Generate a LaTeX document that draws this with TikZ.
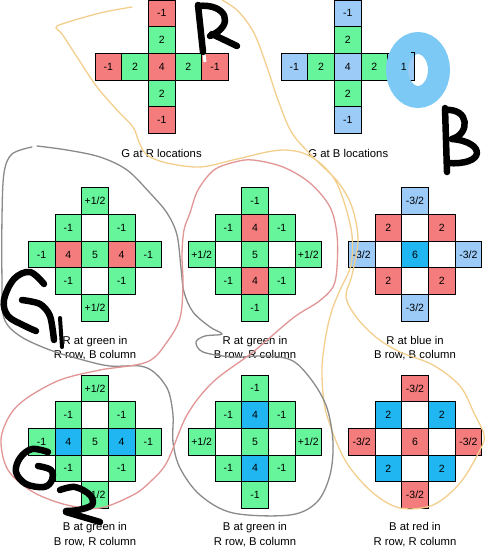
\documentclass[tikz,border=0pt]{standalone}
\usepackage{fontspec}
\setmainfont{Liberation Sans}
\definecolor{cred}{HTML}{F47C7C}
\definecolor{cgreen}{HTML}{66F59B}
\definecolor{clblue}{HTML}{9CCBF7}
\definecolor{ccyan}{HTML}{1FB6F2}
\definecolor{cblob}{HTML}{7CC9F5}
\definecolor{cyel}{HTML}{F3CF8E}
\definecolor{cgray}{HTML}{8A8A8A}
\definecolor{cpink}{HTML}{E29595}
\newcommand\phalf{+1/2}
\newcommand\mthr{-3/2}
\newcommand\emp{}
\tikzset{
  cellbox/.style={draw=black, line width=0.9pt, minimum size=26.67pt, inner sep=0pt,
    font=\fontsize{10.5}{12}\selectfont},
  lbl/.style={font=\fontsize{11.3}{13}\selectfont, inner sep=0pt, anchor=base},
  ink/.style={line width=6.5pt, line cap=round, line join=round, black},
  doodle/.style={line width=1.3pt, line cap=round, line join=round},
}
\begin{document}
\begin{tikzpicture}[x=1pt,y=-1pt]
\fill[white] (0,0) rectangle (491,555);
\useasboundingbox (0,0) rectangle (491,555);

% ---------- G at R locations
\begin{scope}[shift={(161.7,66.7)}]
\foreach \dx/\dy/\f/\t [count=\i] in {0/-2/cred/-1, 0/-1/cgreen/2, -2/0/cred/-1, -1/0/cgreen/2, 0/0/cred/4, 1/0/cgreen/2, 2/0/cred/-1, 0/1/cgreen/2, 0/2/cred/-1}
  \node[cellbox,fill=\f] (ga-\i) at (\dx*26.667,\dy*26.667) {\t};
\end{scope}
% ---------- G at B locations
\begin{scope}[shift={(347.7,66.7)}]
\foreach \dx/\dy/\f/\t [count=\i] in {0/-2/clblue/-1, 0/-1/cgreen/2, -2/0/clblue/-1, -1/0/cgreen/2, 0/0/clblue/4, 1/0/cgreen/2, 2/0/clblue/\emp, 0/1/cgreen/2, 0/2/clblue/-1}
  \node[cellbox,fill=\f] (gb-\i) at (\dx*26.667,\dy*26.667) {\t};
\end{scope}

% ---------- R at green, R row B column
\begin{scope}[shift={(95,254.5)}]
\foreach \dx/\dy/\f/\t [count=\i] in {0/-2/cgreen/\phalf, -1/-1/cgreen/-1, 0/-1/white/\emp, 1/-1/cgreen/-1, -2/0/cgreen/-1, -1/0/cred/4, 0/0/cgreen/5, 1/0/cred/4, 2/0/cgreen/-1, -1/1/cgreen/-1, 0/1/white/\emp, 1/1/cgreen/-1, 0/2/cgreen/\phalf}
  \node[cellbox,fill=\f] (ra-\i) at (\dx*26.667,\dy*26.667) {\t};
\end{scope}
% ---------- R at green, B row R column
\begin{scope}[shift={(255,254.5)}]
\foreach \dx/\dy/\f/\t [count=\i] in {0/-2/cgreen/-1, -1/-1/cgreen/-1, 0/-1/cred/4, 1/-1/cgreen/-1, -2/0/cgreen/\phalf, -1/0/white/\emp, 0/0/cgreen/5, 1/0/white/\emp, 2/0/cgreen/\phalf, -1/1/cgreen/-1, 0/1/cred/4, 1/1/cgreen/-1, 0/2/cgreen/-1}
  \node[cellbox,fill=\f] (rb-\i) at (\dx*26.667,\dy*26.667) {\t};
\end{scope}
% ---------- R at blue
\begin{scope}[shift={(415,254.5)}]
\foreach \dx/\dy/\f/\t [count=\i] in {0/-2/clblue/\mthr, -1/-1/cred/2, 0/-1/white/\emp, 1/-1/cred/2, -2/0/clblue/\mthr, -1/0/white/\emp, 0/0/ccyan/6, 1/0/white/\emp, 2/0/clblue/\mthr, -1/1/cred/2, 0/1/white/\emp, 1/1/cred/2, 0/2/clblue/\mthr}
  \node[cellbox,fill=\f] (rc-\i) at (\dx*26.667,\dy*26.667) {\t};
\end{scope}

% ---------- B at green, B row R column
\begin{scope}[shift={(95,441.7)}]
\foreach \dx/\dy/\f/\t [count=\i] in {0/-2/cgreen/\phalf, -1/-1/cgreen/-1, 0/-1/white/\emp, 1/-1/cgreen/-1, -2/0/cgreen/-1, -1/0/ccyan/4, 0/0/cgreen/5, 1/0/ccyan/4, 2/0/cgreen/-1, -1/1/cgreen/-1, 0/1/white/\emp, 1/1/cgreen/-1, 0/2/cgreen/\phalf}
  \node[cellbox,fill=\f] (ba-\i) at (\dx*26.667,\dy*26.667) {\t};
\end{scope}
% ---------- B at green, R row B column
\begin{scope}[shift={(255,441.7)}]
\foreach \dx/\dy/\f/\t [count=\i] in {0/-2/cgreen/-1, -1/-1/cgreen/-1, 0/-1/ccyan/4, 1/-1/cgreen/-1, -2/0/cgreen/\phalf, -1/0/white/\emp, 0/0/cgreen/5, 1/0/white/\emp, 2/0/cgreen/\phalf, -1/1/cgreen/-1, 0/1/ccyan/4, 1/1/cgreen/-1, 0/2/cgreen/-1}
  \node[cellbox,fill=\f] (bb-\i) at (\dx*26.667,\dy*26.667) {\t};
\end{scope}
% ---------- B at red
\begin{scope}[shift={(415,441.7)}]
\foreach \dx/\dy/\f/\t [count=\i] in {0/-2/cred/\mthr, -1/-1/ccyan/2, 0/-1/white/\emp, 1/-1/ccyan/2, -2/0/cred/\mthr, -1/0/white/\emp, 0/0/cred/6, 1/0/white/\emp, 2/0/cred/\mthr, -1/1/ccyan/2, 0/1/white/\emp, 1/1/ccyan/2, 0/2/cred/\mthr}
  \node[cellbox,fill=\f] (bc-\i) at (\dx*26.667,\dy*26.667) {\t};
\end{scope}

% ---------- labels
\node[lbl] (lga) at (161.5,157.3) {G at R locations};
\node[lbl] (lgb) at (348.3,157.3) {G at B locations};
\node[lbl] (lra1) at (95,344) {R at green in};
\node[lbl] (lra2) at (95,358.3) {R row, B column};
\node[lbl] (lrb1) at (255,344) {R at green in};
\node[lbl] (lrb2) at (255,358.3) {B row, R column};
\node[lbl] (lrc1) at (415,344) {R at blue in};
\node[lbl] (lrc2) at (415,358.3) {B row, B column};
\node[lbl] (lba1) at (95,530.7) {B at green in};
\node[lbl] (lba2) at (95,545.5) {B row, R column};
\node[lbl] (lbb1) at (255,530.7) {B at green in};
\node[lbl] (lbb2) at (255,545.5) {R row, B column};
\node[lbl] (lbc1) at (415,530.7) {B at red in};
\node[lbl] (lbc2) at (415,545.5) {R row, R column};

% ---------- doodles: yellow
\draw[doodle, cyel] plot[smooth, tension=0.55] coordinates {
 (132,7) (100,13) (62,24) (56,28) (62,34) (77,57) (97,87) (117,110) (133,127) (139,142)
 (147,155) (167,163) (200,167) (233,160) (267,152) (285,150) (303,153) (320,163) (335,180)
 (345,205) (352,235) (351,265) (340,290) (332,310) (326,335) (322,370) (326,412) (345,460)
 (372,492) (400,508) (433,505) (460,483) (480,450) (484,435) (474,413) (460,386) (433,365)
 (400,352) (377,338) (357,318) (346,297) (352,275) (358,240) (352,207) (338,182) (314,158)
 (292,133) (278,100) (267,67) (254,33) (238,11) (222,0)};
% gray
\draw[doodle, cgray] plot[smooth, tension=0.55] coordinates {
 (37,146) (67,150) (100,157) (127,170) (150,193) (167,213) (177,235) (181,268) (184,292)
 (193,312) (210,327) (222,334) (205,336) (196,342) (203,352) (233,357) (267,356) (293,361)
 (313,382) (327,408) (333,442) (330,475) (317,502) (290,515) (233,513) (200,495) (180,468)
 (173,442) (173,415) (168,390) (155,373) (140,366) (110,366) (83,360) (50,350) (20,336)
 (4,318) (2,280) (2,217) (4,173) (12,154) (32,147)};
% red
\draw[doodle, cpink] plot[smooth cycle, tension=0.55] coordinates {
 (253,160) (283,167) (310,183) (330,207) (337,235) (337,267) (333,287) (318,302) (293,318)
 (253,352) (213,382) (187,415) (167,462) (150,482) (133,495) (100,508) (67,505) (33,492)
 (8,470) (1,440) (10,415) (27,398) (60,380) (100,370) (147,362) (167,342) (180,318)
 (183,285) (182,255) (184,230) (190,213) (198,190) (214,170) (235,162)};

% blue blob over the last cell of G at B
\draw[cblob, line width=22pt] (418,70) ellipse [x radius=21, y radius=27];
\node[inner sep=0pt, font=\fontsize{10.5}{12}\selectfont] (gbone) at ([xshift=2.7pt]gb-7.center) {1};
\draw[line width=0.9pt] ([xshift=-4pt]gb-7.north east) -- (gb-7.north east) -- (gb-7.south east) -- ([xshift=-4pt]gb-7.south east);

% black letters
\draw[white, line width=3pt] (204,54) -- (205,62);
\draw[ink] (198,5) -- (203,52);
\draw[ink] (198,6) .. controls (226,3) and (236,25) .. (210,36);
\draw[ink] (212,34) -- (237,46);
% B
\draw[ink] (445,108) -- (447,172);
\draw[ink] (445,110) .. controls (470,108) and (470,134) .. (452,139);
\draw[ink] (452,139) .. controls (486,142) and (486,166) .. (447,163);
% G1
\draw[ink] plot[smooth, tension=0.6] coordinates {(44,284) (30,272) (14,279) (4,300) (8,316) (25,326) (36,331)};
\draw[ink] plot[smooth, tension=0.5] coordinates {(22,300) (40,304) (50,316) (54,340)};
\draw[ink, line width=4pt] (60,318) -- (62,347);
% G2
\draw[ink] plot[smooth, tension=0.6] coordinates {(48,452) (32,449) (20,458) (16,472) (26,484) (44,487) (52,480) (51,470) (38,466)};
\draw[ink] plot[smooth, tension=0.6] coordinates {(60,490) (75,487) (90,495) (92,505) (78,510) (66,511)};
\draw[ink] (66,512) -- (100,522);
\end{tikzpicture}
\end{document}
